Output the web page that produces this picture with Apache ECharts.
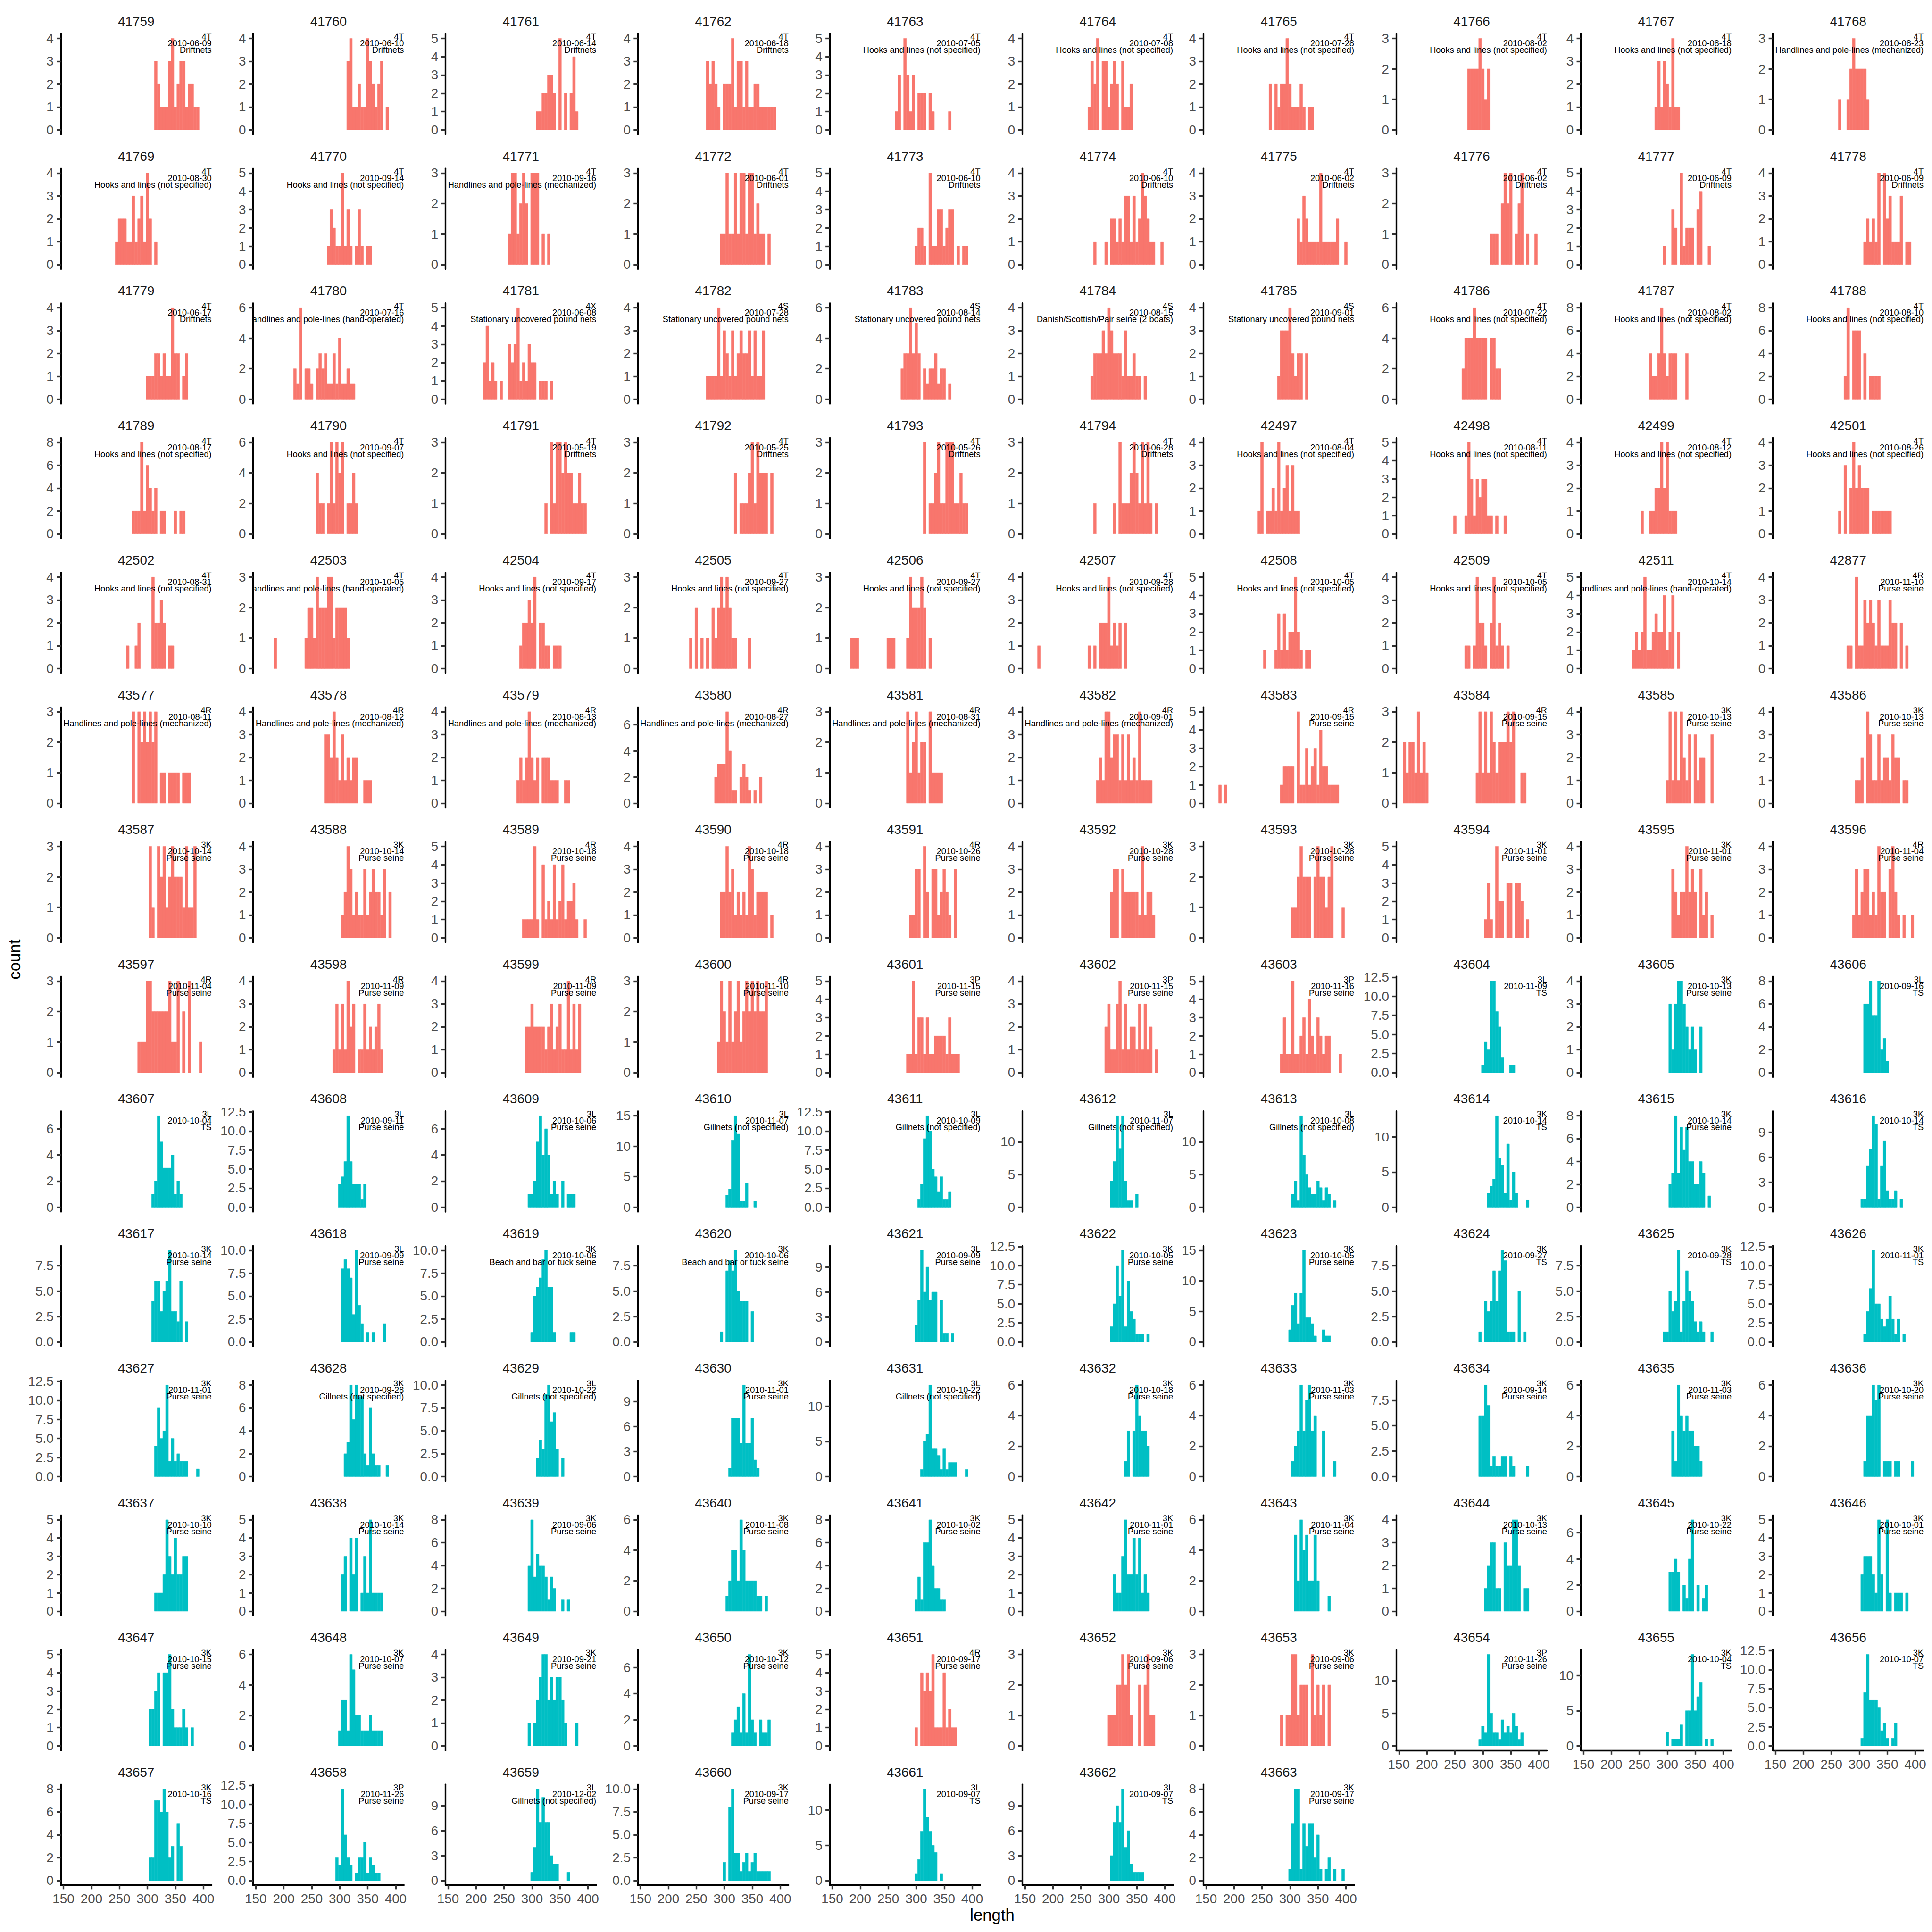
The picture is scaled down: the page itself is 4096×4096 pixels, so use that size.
<!DOCTYPE html>
<html><head><meta charset="utf-8">
<script src="https://cdn.jsdelivr.net/npm/echarts@6/dist/echarts.min.js"></script>
<style>html,body{margin:0;padding:0;background:#fff}#c{width:4096px;height:4096px}</style>
</head><body><div id="c"></div>
<script>
// ---------------- data ----------------
const panelIds = [
41759,41760,41761,41762,41763,41764,41765,41766,41767,41768,
41769,41770,41771,41772,41773,41774,41775,41776,41777,41778,
41779,41780,41781,41782,41783,41784,41785,41786,41787,41788,
41789,41790,41791,41792,41793,41794,42497,42498,42499,42501,
42502,42503,42504,42505,42506,42507,42508,42509,42511,42877,
43577,43578,43579,43580,43581,43582,43583,43584,43585,43586,
43587,43588,43589,43590,43591,43592,43593,43594,43595,43596,
43597,43598,43599,43600,43601,43602,43603,43604,43605,43606,
43607,43608,43609,43610,43611,43612,43613,43614,43615,43616,
43617,43618,43619,43620,43621,43622,43623,43624,43625,43626,
43627,43628,43629,43630,43631,43632,43633,43634,43635,43636,
43637,43638,43639,43640,43641,43642,43643,43644,43645,43646,
43647,43648,43649,43650,43651,43652,43653,43654,43655,43656,
43657,43658,43659,43660,43661,43662,43663];

const areaCodes = [
'4T','4T','4T','4T','4T','4T','4T','4T','4T','4T',
'4T','4T','4T','4T','4T','4T','4T','4T','4T','4T',
'4T','4T','4X','4S','4S','4S','4S','4T','4T','4T',
'4T','4T','4T','4T','4T','4T','4T','4T','4T','4T',
'4T','4T','4T','4T','4T','4T','4T','4T','4T','4R',
'4R','4R','4R','4R','4R','4R','4R','4R','3K','3K',
'3K','3K','4R','4R','4R','3K','3K','3K','3K','4R',
'4R','4R','4R','4R','3P','3P','3P','3L','3K','3L',
'3L','3L','3L','3L','3L','3L','3L','3K','3K','3K',
'3K','3L','3K','3K','3L','3K','3K','3K','3K','3K',
'3K','3K','3L','3K','3L','3K','3K','3K','3K','3K',
'3K','3K','3K','3K','3K','3K','3K','3K','3K','3K',
'3K','3K','3K','3K','4R','3K','3K','3P','3K','3K',
'3K','3P','3L','3K','3L','3L','3K'];

const tripDates = [
'2010-06-09','2010-06-10','2010-06-14','2010-06-18','2010-07-05','2010-07-08','2010-07-28','2010-08-02','2010-08-18','2010-08-23',
'2010-08-30','2010-09-14','2010-09-16','2010-06-01','2010-06-10','2010-06-10','2010-06-02','2010-06-02','2010-06-09','2010-06-09',
'2010-06-17','2010-07-16','2010-06-08','2010-07-28','2010-08-14','2010-08-15','2010-09-01','2010-07-22','2010-08-02','2010-08-10',
'2010-08-17','2010-09-07','2010-05-19','2010-05-25','2010-05-26','2010-06-28','2010-08-04','2010-08-11','2010-08-12','2010-08-26',
'2010-08-31','2010-10-05','2010-09-17','2010-09-27','2010-09-27','2010-09-28','2010-10-05','2010-10-05','2010-10-14','2010-11-10',
'2010-08-11','2010-08-12','2010-08-13','2010-08-27','2010-08-31','2010-09-01','2010-09-15','2010-09-15','2010-10-13','2010-10-13',
'2010-10-14','2010-10-14','2010-10-18','2010-10-18','2010-10-26','2010-10-28','2010-10-28','2010-11-01','2010-11-01','2010-11-04',
'2010-11-04','2010-11-09','2010-11-09','2010-11-10','2010-11-15','2010-11-15','2010-11-16','2010-11-09','2010-10-13','2010-09-16',
'2010-10-04','2010-09-11','2010-10-06','2010-11-07','2010-10-09','2010-11-07','2010-10-08','2010-10-14','2010-10-14','2010-10-14',
'2010-10-14','2010-09-09','2010-10-06','2010-10-06','2010-09-09','2010-10-05','2010-10-05','2010-09-27','2010-09-28','2010-11-01',
'2010-11-01','2010-09-28','2010-10-22','2010-11-01','2010-10-22','2010-10-18','2010-11-03','2010-09-14','2010-11-03','2010-10-20',
'2010-10-10','2010-10-14','2010-09-06','2010-11-08','2010-10-02','2010-11-01','2010-11-04','2010-10-13','2010-10-22','2010-10-01',
'2010-10-15','2010-10-07','2010-09-21','2010-10-12','2010-09-17','2010-09-06','2010-09-06','2010-11-26','2010-10-04','2010-10-07',
'2010-10-16','2010-11-26','2010-12-02','2010-09-17','2010-09-07','2010-09-07','2010-09-17'];

const gearNames = ['Driftnets','Hooks and lines (not specified)','Handlines and pole-lines (mechanized)',
'Handlines and pole-lines (hand-operated)','Stationary uncovered pound nets','Danish/Scottish/Pair seine (2 boats)',
'Purse seine','TS','Gillnets (not specified)','Beach and bar or tuck seine'];

const gearIndex = [
0,0,0,0,1,1,1,1,1,2,
1,1,2,0,0,0,0,0,0,0,
0,3,4,4,4,5,4,1,1,1,
1,1,0,0,0,0,1,1,1,1,
1,3,1,1,1,1,1,1,3,6,
2,2,2,2,2,2,6,6,6,6,
6,6,6,6,6,6,6,6,6,6,
6,6,6,6,6,6,6,7,6,7,
7,6,6,8,8,8,8,7,6,7,
6,6,9,9,6,6,6,7,7,7,
6,8,8,6,8,6,6,6,6,6,
6,6,6,6,6,6,6,6,6,6,
6,6,6,6,6,6,6,6,7,7,
7,6,8,6,7,7,6];

// fill group: a = salmon, b = teal
const fillGroup = [
'a','a','a','a','a','a','a','a','a','a','a','a','a','a','a','a','a','a','a','a',
'a','a','a','a','a','a','a','a','a','a','a','a','a','a','a','a','a','a','a','a',
'a','a','a','a','a','a','a','a','a','a','a','a','a','a','a','a','a','a','a','a',
'a','a','a','a','a','a','a','a','a','a','a','a','a','a','a','a','a','b','b','b',
'b','b','b','b','b','b','b','b','b','b','b','b','b','b','b','b','b','b','b','b',
'b','b','b','b','b','b','b','b','b','b','b','b','b','b','b','b','b','b','b','b',
'b','b','b','b','a','a','a','b','b','b','b','b','b','b','b','b','b'];

// centre (length) of the first 5-unit bin of each panel
const binStart = [
315,315,310,270,265,265,265,275,280,265,
245,280,260,295,300,275,315,315,295,310,
300,220,215,270,275,270,280,265,270,275,
275,260,325,320,315,275,245,250,255,265,
265,185,280,240,185,175,255,270,240,280,
275,275,275,285,285,280,175,160,300,295,
305,305,285,295,290,305,305,305,310,290,
285,290,290,290,285,295,285,300,305,310,
310,300,295,305,305,305,305,310,305,305,
310,305,300,295,300,305,300,295,295,310,
315,310,310,310,310,330,305,295,310,310,
315,305,295,305,300,310,310,305,305,305,
305,300,295,315,300,300,285,295,300,305,
305,295,300,300,300,305,300];

const binCounts = [
[3,2,1,1,1,3,4,1,2,3,3,1,2,2,1,1],
[3,4,1,1,2,1,1,4,3,2,1,2,3,0,1],
[1,1,2,2,3,3,2,0,5,0,2,0,2,4,1],
[3,2,3,2,1,0,2,2,2,4,1,3,3,1,3,1,1,2,2,1,1,1,1,1,1],
[1,3,0,5,3,1,3,0,2,2,2,0,2,1,0,0,0,0,0,1],
[1,3,2,4,0,3,3,1,2,3,2,0,3,1,1,2],
[2,0,2,1,2,2,4,2,1,1,1,2,1,0,1,1],
[2,2,2,2,3,2,1,2],
[1,3,1,3,2,1,4,1,1],
[1,0,0,1,2,3,2,2,2,2,1],
[1,2,2,2,1,1,3,1,2,3,1,4,2,0,1],
[1,3,2,1,1,5,1,3,1,0,1,3,1,0,1,1],
[1,3,3,1,2,3,2,0,3,3,3,0,1,0,1],
[1,1,3,1,1,3,1,3,3,1,3,3,1,2,1,1,0,1],
[1,2,2,1,0,5,1,1,3,3,1,2,3,3,0,1,0,1,1],
[1,0,0,0,1,0,2,2,1,2,1,3,3,1,3,1,2,4,3,2,1,1,0,0,1],
[2,1,3,2,1,1,1,1,4,1,1,1,1,1,2,0,0,1],
[1,1,1,0,2,3,2,3,0,1,2,3,0,1,0,0,1],
[1,0,0,3,2,0,5,1,2,2,2,0,3,4,0,0,1],
[1,2,1,2,1,4,0,4,2,3,1,1,1,3,0,1,1],
[1,1,1,2,2,1,2,1,1,4,2,2,0,1,2],
[2,1,6,0,2,2,1,0,2,3,2,3,1,1,3,1,4,1,1,2,1,1],
[2,4,1,2,1,0,1,0,0,3,2,3,5,1,2,1,3,2,2,0,1,1,1,0,1],
[1,1,1,1,4,1,3,2,1,3,1,2,3,2,2,3,1,3,1,1,3],
[2,3,3,6,3,5,3,0,2,1,2,2,3,1,2,2,0,1],
[1,2,2,2,3,2,4,3,2,2,2,1,3,1,1,2,1,1,0,1],
[1,3,3,3,4,2,1,2,2,0,2],
[2,4,4,4,6,4,4,4,4,0,4,4,2,2],
[4,2,2,4,8,4,2,4,4,4,0,0,0,4],
[2,8,0,6,6,6,0,4,0,2,2,2,2],
[2,2,2,8,2,6,4,2,4,0,2,2,0,0,0,2,0,2,2],
[4,2,2,0,2,6,2,6,4,6,0,2,2,4,2],
[1,0,3,1,3,3,2,3,2,2,1,1,2,1,1],
[2,0,1,1,1,2,3,1,3,2,2,2,0,2],
[3,0,1,1,2,3,1,1,3,3,3,1,1,2,1,1],
[1,0,0,0,0,0,0,1,0,3,1,1,1,2,3,2,1,3,1,3,1,0,1],
[1,4,0,1,1,2,1,4,1,2,3,1,3,1,1],
[1,0,0,0,1,5,3,1,3,2,3,3,1,1,0,1,0,0,1],
[1,0,0,1,1,2,2,4,2,4,1,1,1],
[1,0,3,0,2,4,2,3,2,2,2,0,1,1,1,1,1,1,1],
[1,0,0,1,2,0,0,0,0,4,2,2,3,2,0,1,1],
[1,0,0,0,0,0,0,0,0,0,0,1,2,2,1,3,2,2,2,3,3,1,2,2,2,2,1],
[1,2,2,3,2,4,0,2,2,1,1,0,1,1,1],
[1,0,2,0,1,0,1,0,2,1,2,3,2,3,2,1,1,0,0,0,0,1],
[1,1,1,0,0,0,0,0,0,0,0,0,0,1,1,1,0,0,0,0,1,3,2,2,2,3,2,0,1],
[1,0,0,0,0,0,0,0,0,0,0,0,0,0,0,0,0,0,1,0,1,0,2,2,2,4,1,2,1,2,0,2],
[1,0,0,0,1,3,1,3,1,2,2,5,2,1,0,1,1],
[1,1,0,1,4,2,2,1,0,2,4,1,2,1,0,1],
[1,2,1,2,5,1,1,2,3,2,2,4,1,2,4,0,2],
[1,1,0,4,1,1,3,2,3,2,1,3,1,1,1,3,2,2,0,2,0,1],
[3,0,3,2,3,2,3,2,3,0,1,1,0,1,1,1,1,0,1,1,1],
[3,3,2,4,2,1,3,1,2,1,2,2,0,0,1,1,1],
[1,2,1,2,4,2,1,2,0,2,2,2,1,1,1,0,0,1,1],
[2,3,3,3,7,4,1,1,0,2,3,2,1,0,1,0,2],
[3,1,2,3,1,2,2,0,3,1,1,1,1],
[1,2,1,4,4,2,3,3,1,3,1,3,1,2,1,4,1,1,1,1],
[1,0,1,0,0,0,0,0,0,0,0,0,0,0,0,0,0,0,0,0,0,0,1,2,2,2,2,0,5,1,1,3,1,2,3,1,4,2,2,1,1,1,1],
[2,1,2,2,1,3,1,2,1,0,0,0,0,0,0,0,0,0,0,0,0,0,0,0,0,0,1,3,1,3,1,3,2,1,2,2,2,3,2,3,0,0,1,1],
[1,4,1,4,1,4,2,1,3,0,3,1,2,2,0,0,3],
[1,1,2,0,4,3,1,1,3,1,2,2,1,3,2,2,0,1,1],
[3,1,0,3,2,3,1,2,3,2,2,2,1,3,1,1,3],
[1,2,4,3,1,2,1,1,3,1,2,3,2,2,1,3,0,2],
[1,1,1,1,5,1,0,4,1,2,1,4,1,2,4,1,2,2,3,1,0,0,1],
[2,2,4,2,3,1,2,1,2,1,4,3,1,2,2,2,2,0,1],
[1,1,3,3,0,4,2,0,3,3,1,2,3,2,1,0,3],
[2,3,3,0,3,2,2,2,2,2,1,4,1,2,2,1],
[1,1,2,3,2,2,2,0,2,3,2,2,1,2,3,0,0,0,1],
[1,3,1,0,5,2,2,0,3,3,0,3,3,2,0,1],
[3,2,1,2,2,4,2,3,2,0,3,1,2,0,1],
[1,3,1,2,3,3,1,2,1,4,2,2,0,3,4,2,1,0,1,0,0,1],
[1,1,1,3,3,2,2,2,2,2,2,3,1,1,3,0,2,0,3,0,0,0,1],
[1,3,1,3,1,4,2,3,0,1,1,3,1,2,1,2,3,1],
[2,2,3,2,2,2,2,1,2,3,1,2,3,1,1,4,1,3,1,3],
[1,3,2,1,3,1,2,3,1,2,3,2,3,2,3,2,2,3],
[1,1,5,1,3,3,1,3,1,1,2,2,2,2,1,3,1,1,1],
[2,3,1,1,3,4,1,3,1,2,2,1,3,1,3,1,2,0,1],
[1,3,1,1,5,1,1,2,3,1,4,2,1,3,2,1,2,2,0,0,0,1],
[1,4,3,12,12,8,6,2,0,0,1,1],
[3,1,3,4,4,3,2,1,2,1,0,2],
[6,6,8,5,5,8,2,3,1],
[1,2,7,5,3,3,3,4,1,2,1],
[3,4,6,12,6,3,3,3,1,3],
[1,1,2,5,7,4,6,4,1,2,1,0,2,0,1,1,1],
[2,3,11,15,12,1,1,4,0,0,1],
[1,3,9,12,10,5,4,2,4,1,1,2],
[4,7,14,9,14,4,1,1,0,2],
[2,4,1,14,8,5,3,2,2,4,3,1,3,2,0,1],
[2,3,4,13,7,6,2,9,1,5,2,0,0,0,1],
[2,3,8,3,7,5,7,4,4,2,2,4,3,0,1],
[1,1,5,7,11,10,1,5,8,2,1,1,2,0,1],
[4,6,6,3,5,6,9,3,3,2,6,0,2],
[8,9,8,7,3,10,4,2,0,1,0,1,0,0,0,2],
[1,5,6,7,9,10,6,6,1,0,0,0,0,0,1,1],
[1,0,7,8,7,9,5,4,4,4,0,3],
[2,5,11,6,9,5,6,6,0,5,1,1,0,1],
[2,5,10,6,12,2,8,4,3,1,1,1,0,1],
[2,6,8,3,8,15,4,4,3,1,0,0,2,1,1],
[1,0,4,3,4,7,4,7,9,8,1,1,1,0,5,0,1],
[1,1,5,3,4,9,1,4,7,5,4,2,1,2,1,0,0,1],
[1,4,7,12,5,5,3,2,3,6,3,1,3,0,1],
[4,9,5,6,12,2,5,2,3,2,2,2,0,0,0,1],
[2,3,8,5,8,7,7,2,1,6,2,1,1,0,0,1],
[2,4,3,9,10,6,7,3,0,2],
[1,7,7,7,4,11,4,4,7,2,1],
[1,5,6,13,4,4,3,1,4,1,2,2,2,0,0,0,1],
[1,3,0,3,6,4,3,3,2],
[1,2,3,6,3,5,6,3,4,0,0,3,0,0,0,1],
[6,6,9,7,1,2,1,1,2,2,0,2,1,0,0,0,0,1],
[3,1,6,4,3,4,3,3,2,2,1],
[1,4,4,6,5,6,0,1,1,1,0,1,1,0,0,0,0,1],
[1,1,1,2,5,3,2,4,2,2,3,3],
[2,3,0,4,2,4,0,1,3,1,5,1,1,1,1],
[4,8,3,5,4,4,3,1,3,2,0,0,1,0,1],
[1,2,4,4,2,6,4,2,2,2,2,1,1,0,1],
[1,3,1,6,6,8,4,2,2,1,1],
[2,1,1,3,5,2,2,4,2,4,1,2,1],
[5,2,6,4,5,2,2,5,2,0,0,0,1],
[1,2,3,3,1,1,0,3,2,2,4,4,2,0,1,1],
[3,3,4,3,0,2,1,4,7,0,2,0,1,2],
[2,3,3,3,2,1,5,2,0,5,1,0,1,1,1,0,1],
[2,2,3,4,0,4,4,5,2,1,1,1,2,1,0,1],
[1,3,3,1,6,5,2,2,1,1,1,2,1,1,1,1],
[1,0,1,2,3,4,4,2,3,2,3,3,2,1,0,0,0,1],
[1,2,3,1,4,1,7,2,1,0,2,1,1,2],
[1,0,4,3,4,3,5,1,1,1,4,1,2,1,1],
[1,1,1,2,2,3,2,3,1,0,0,2,0,2,3,1,1],
[1,0,1,1,3,3,1,2,2,2,0,3,1,2,1,2,0,2],
[1,3,2,14,5,2,2,1,4,2,3,2,5,3,1,2],
[2,0,1,1,1,3,0,5,5,13,5,7,9,0,1,0,1],
[1,7,12,6,6,6,5,2,3,1,0,1,3],
[2,2,7,7,6,8,6,2,3,0,5,3],
[3,2,12,6,3,2,0,1,3,3,5,1,3,2,1,1],
[1,4,11,7,10,7,7,3,2,2,0,0,0,1],
[2,0,8,10,3,3,1,2,3,1,2,3,1,1,1,1,1],
[1,3,7,13,9,7,5,4,0,1],
[3,7,9,7,11,4,6,2,1,1,1,1],
[1,5,8,8,1,5,3,5,5,2,4,1,0,1,2,0,1,0,0,1]];

const binWidth = 5;
const xTickValues = [150, 200, 250, 300, 350, 400];
const xTitle = 'length';
const yTitle = 'count';

// ---------------- layout (reference px, scaled) ----------------
const S = 4096 / 5400;
const NCOL = 10;
const colAxisX = [170, 707.5, 1245, 1782.5, 2318.8, 2857.3, 3363.5, 3902.6, 4418.2, 4954.9];
const PANEL_W = 421.5, PANEL_H = 281.3, ROW_TOP0 = 94.5, ROW_PITCH = 376.4;
const X_MIN = 145.25, X_MAX = 414.75;
const FONT = '"Liberation Sans", Arial, Helvetica, sans-serif';
const FS_TICK = 36.7 * S, FS_STRIP = 36.7 * S, FS_NOTE = 24 * S, FS_AXT = 45.8 * S;
const LW = 4.4 * S, TICK_LEN = 11.5 * S, LABEL_MARGIN = 20 * S;
const FILLS = { a: '#F8766D', b: '#00BFC4' };

function yStep(m) {
  if (m <= 5) return 1;
  if (m <= 8) return 2;
  if (m === 11) return 3;
  if (m <= 12) return 2.5;
  return 5;
}

const grids = [], xAxes = [], yAxes = [], series = [], graphics = [];
const n = panelIds.length;
for (let i = 0; i < n; i++) {
  const col = i % NCOL, row = Math.floor(i / NCOL);
  const left = colAxisX[col] * S;
  const top = (ROW_TOP0 + row * ROW_PITCH) * S;
  const w = PANEL_W * S, h = PANEL_H * S;
  grids.push({ left: left, top: top, width: w, height: h, containLabel: false });

  const counts = binCounts[i];
  const m = Math.max.apply(null, counts);
  const step = yStep(m);
  const yMin = -0.05 * m, yMax = 1.05 * m;
  const yTicks = [];
  for (let k = 0; k * step <= yMax + 1e-9; k++) yTicks.push(k * step);
  const dec = step === 2.5;

  const isBottom = i + NCOL >= n;
  xAxes.push({
    gridIndex: i, type: 'value', min: X_MIN, max: X_MAX, show: isBottom,
    axisLine: { show: true, onZero: false, lineStyle: { color: '#000', width: LW } },
    axisTick: { show: true, length: TICK_LEN, customValues: xTickValues, lineStyle: { color: '#333333', width: LW } },
    axisLabel: { show: true, customValues: xTickValues, fontSize: FS_TICK, fontFamily: FONT, color: '#4D4D4D', margin: LABEL_MARGIN,
      formatter: v => String(Math.round(v)) },
    splitLine: { show: false }
  });
  yAxes.push({
    gridIndex: i, type: 'value', min: yMin, max: yMax,
    axisLine: { show: true, onZero: false, lineStyle: { color: '#000', width: LW } },
    axisTick: { show: true, length: TICK_LEN, customValues: yTicks, lineStyle: { color: '#333333', width: LW } },
    axisLabel: { show: true, customValues: yTicks, fontSize: FS_TICK, fontFamily: FONT, color: '#4D4D4D', margin: LABEL_MARGIN,
      formatter: v => dec ? (Math.round(v * 10) / 10).toFixed(1) : String(Math.round(v)) },
    splitLine: { show: false }
  });

  const fill = FILLS[fillGroup[i]];
  const data = [];
  counts.forEach((c, k) => { if (c > 0) data.push([binStart[i] + k * binWidth, c]); });
  series.push({
    type: 'custom', xAxisIndex: i, yAxisIndex: i, clip: true, silent: true, animation: false,
    data: data,
    renderItem: function (params, api) {
      const x = api.value(0), c = api.value(1);
      const p0 = api.coord([x - binWidth / 2, c]);
      const p1 = api.coord([x + binWidth / 2, 0]);
      return { type: 'rect', shape: { x: p0[0], y: p0[1], width: p1[0] - p0[0], height: p1[1] - p0[1] },
        style: { fill: fill, stroke: fill, lineWidth: 0.6 } };
    }
  });

  const note = areaCodes[i] + '\n' + tripDates[i] + '\n' + gearNames[gearIndex[i]];
  series.push({
    type: 'custom', xAxisIndex: i, yAxisIndex: i, clip: true, silent: true, animation: false,
    data: [[X_MAX, yMax]],
    renderItem: function (params, api) {
      const p = api.coord([api.value(0), api.value(1)]);
      return { type: 'text', x: p[0], y: p[1] - 0.5,
        style: { text: note, font: FS_NOTE + 'px ' + FONT, fill: '#000', align: 'right', verticalAlign: 'top',
          textAlign: 'right', textVerticalAlign: 'top', lineHeight: 18.4 * S } };
    }
  });

  graphics.push({ type: 'text', x: left + w / 2, y: top - 34 * S, silent: true,
    style: { text: String(panelIds[i]), font: FS_STRIP + 'px ' + FONT, fill: '#1A1A1A',
      align: 'center', verticalAlign: 'middle', textAlign: 'center', textVerticalAlign: 'middle' } });
}

const lastRowBottom = ROW_TOP0 + 13 * ROW_PITCH + PANEL_H;
graphics.push({ type: 'text', x: 41 * S, y: (ROW_TOP0 + lastRowBottom) / 2 * S, rotation: Math.PI / 2, silent: true,
  style: { text: yTitle, font: FS_AXT + 'px ' + FONT, fill: '#000', align: 'center', verticalAlign: 'middle',
    textAlign: 'center', textVerticalAlign: 'middle' } });
graphics.push({ type: 'text', x: (colAxisX[0] + colAxisX[9] + PANEL_W) / 2 * S, y: 5352 * S, silent: true,
  style: { text: xTitle, font: FS_AXT + 'px ' + FONT, fill: '#000', align: 'center', verticalAlign: 'middle',
    textAlign: 'center', textVerticalAlign: 'middle' } });

const chart = echarts.init(document.getElementById('c'), null, { renderer: 'svg', width: 4096, height: 4096 });
chart.setOption({
  animation: false,
  backgroundColor: '#ffffff',
  grid: grids, xAxis: xAxes, yAxis: yAxes, series: series,
  graphic: graphics
});
</script>
</body></html>
